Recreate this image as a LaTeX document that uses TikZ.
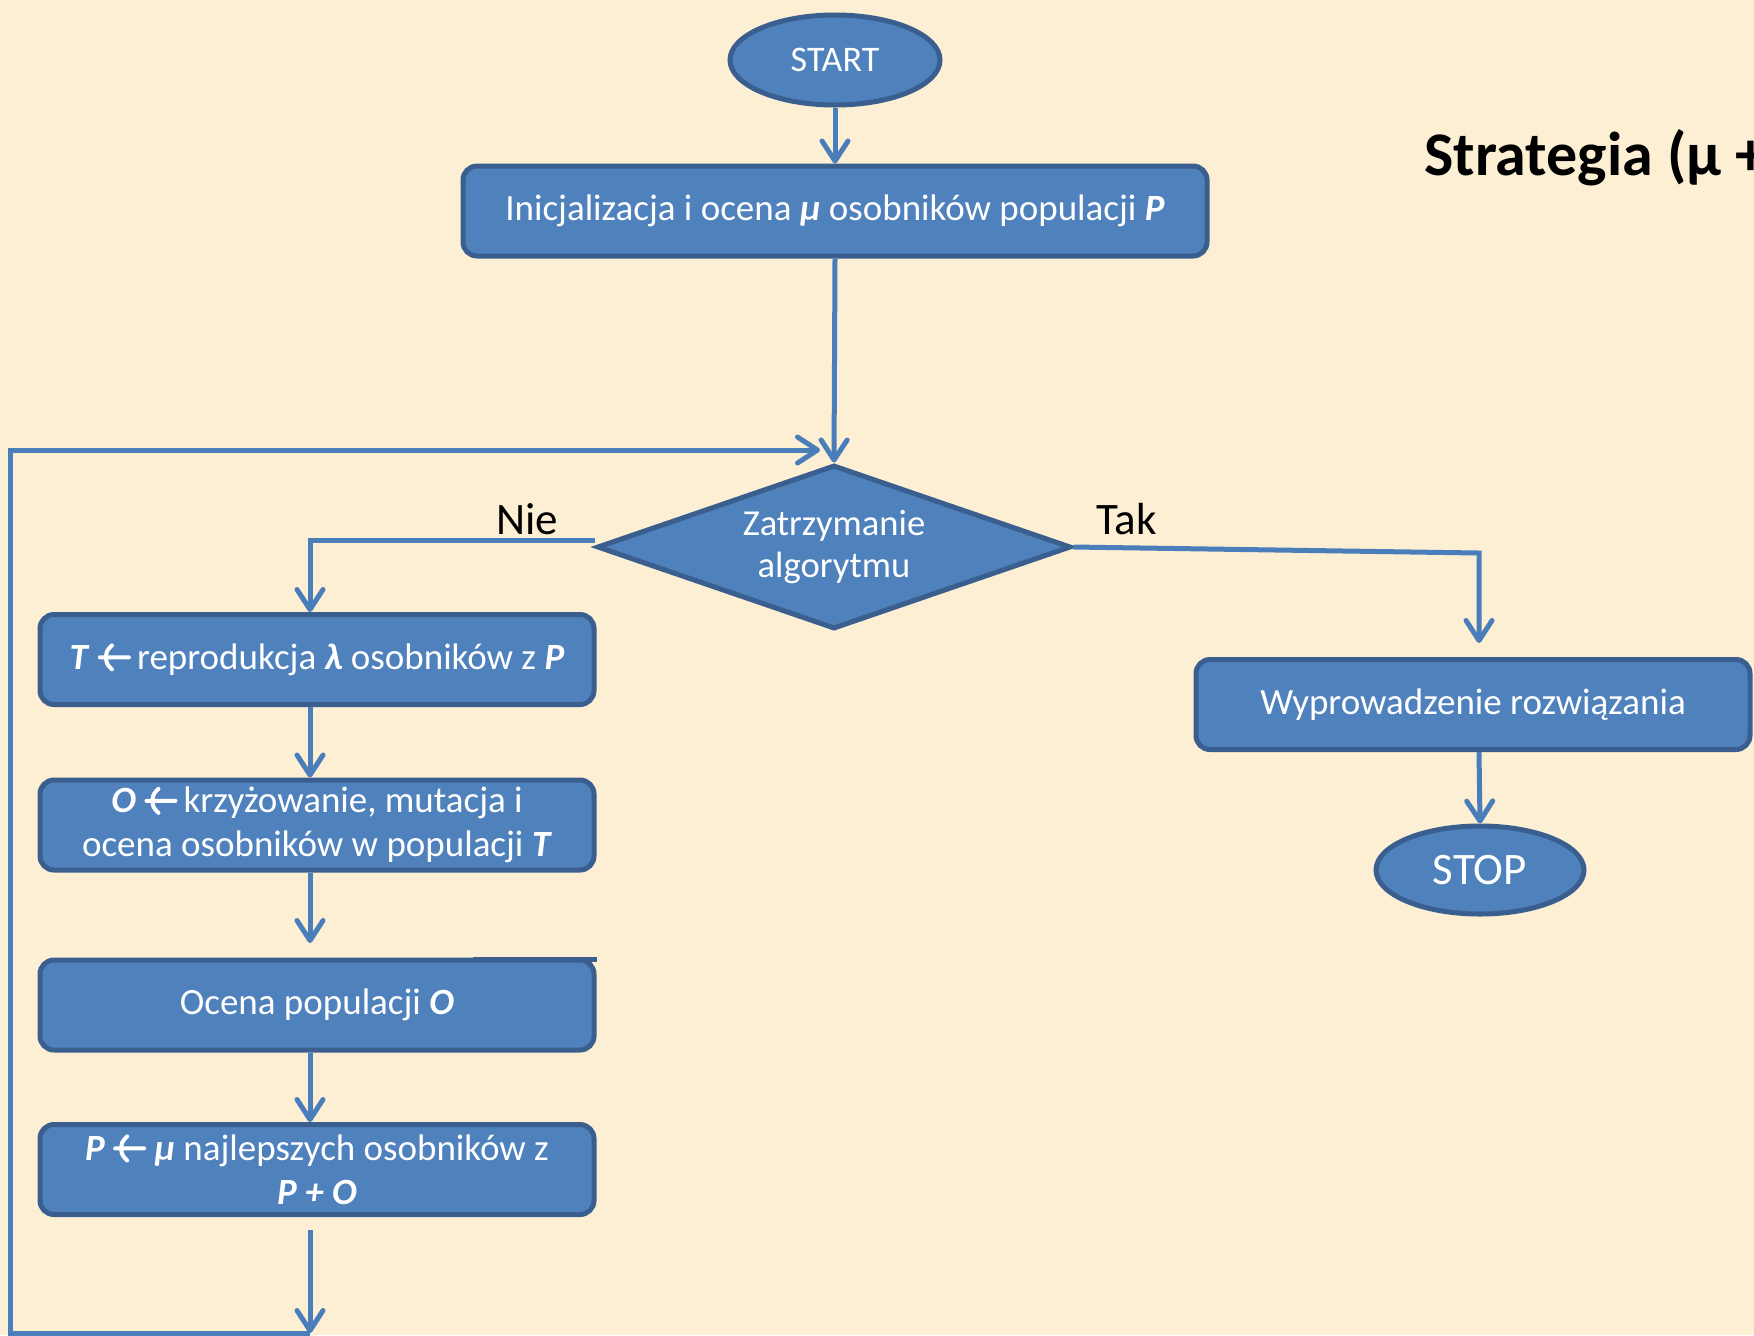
\documentclass[tikz,border=0pt]{standalone}
\usepackage{fontspec}
\setmainfont{Carlito}
\usetikzlibrary{shapes.geometric,arrows.meta,calc}

\definecolor{paper}{HTML}{FCEFD4}
\definecolor{boxfill}{HTML}{4F81BD}
\definecolor{boxline}{HTML}{3A5F8F}
\definecolor{wire}{HTML}{4A7EBB}

\newcommand{\bi}[1]{\textbf{\textit{#1}}}
% open-headed left arrow used as the assignment sign
\newcommand{\getsarrow}{\tikz[x=1pt,y=1pt,baseline=0pt]
  \draw[white, line width=2pt, line cap=round, line join=round]
    (15.5,6) -- (1,6) (7,12) -- (1,6) -- (7,0);}

\tikzset{
  stepbox/.style={draw=boxline, fill=boxfill, line width=2.5pt,
    rounded corners=7pt, text=white, align=center, inner sep=0pt,
    minimum width=277pt, minimum height=45pt,
    font=\fontsize{18.5pt}{22pt}\selectfont},
  terminal/.style={ellipse, draw=boxline, fill=boxfill, line width=2.5pt,
    text=white, inner sep=0pt},
  decision/.style={diamond, draw=boxline, fill=boxfill, line width=2.5pt,
    text=white, align=center, inner sep=0pt, shape aspect=2.85,
    minimum width=237pt, minimum height=82pt,
    font=\fontsize{18.3pt}{21pt}\selectfont},
  conn/.style={draw=wire, line width=2.5pt,
    -{Straight Barb[length=10pt,width=13pt,round]}},
  branchlabel/.style={anchor=base west, inner sep=0pt,
    font=\fontsize{22.5pt}{26pt}\selectfont},
}

\begin{document}
\begin{tikzpicture}[x=0.5pt,y=-0.5pt]
  % page background
  \fill[paper] (0,0) rectangle (1754,1335);
  \useasboundingbox (0,0) rectangle (1754,1335);

  % heading, running off the right edge
  \begin{scope}
    \clip (0,0) rectangle (1754,1335);
    \node[anchor=base west, inner sep=0pt,
      font=\fontsize{31pt}{36pt}\selectfont\bfseries]
      (title) at (1424,175) {Strategia (μ +};
  \end{scope}

  % main column
  \node[terminal, minimum width=105pt, minimum height=45pt,
    font=\fontsize{18pt}{22pt}\selectfont] (start) at (835,60) {START};
  \node[stepbox, minimum width=372pt] (init) at (835,211)
    {Inicjalizacja i ocena \bi{μ} osobników populacji \bi{P}};
  \node[decision] (dia) at (834,547) {Zatrzymanie\\algorytmu};

  % loop body
  \node[stepbox] (tbox) at (317,659.5)
    {\bi{T} \getsarrow\,reprodukcja \bi{λ} osobników z \bi{P}};
  \node[stepbox] (obox) at (317,825)
    {\bi{O} \getsarrow\,krzyżowanie, mutacja i\\ocena osobników w populacji \bi{T}};
  \node[stepbox] (cbox) at (317,1005) {Ocena populacji \bi{O}};
  \fill[boxline] (473,957) rectangle (597,962);
  \node[stepbox] (pbox) at (317,1169.5)
    {\bi{P} \getsarrow{} \bi{μ} najlepszych osobników z\\\bi{P + O}};

  % exit branch
  \node[stepbox] (wbox) at (1473,704.5) {Wyprowadzenie rozwiązania};
  \node[terminal, minimum width=104pt, minimum height=44pt,
    font=\fontsize{22.5pt}{26pt}\selectfont] (stop) at (1480,870) {STOP};

  % branch labels
  \node[branchlabel] (nie) at (496,534) {Nie};
  \node[branchlabel] (tak) at (1096,534) {Tak};

  % helper points
  \coordinate (lx) at (310,0);
  \coordinate (otip) at (310,943);
  \coordinate (ptail) at (310,1230);
  \coordinate (pend) at (310,1333);
  \coordinate (lowleft) at (10,1333);
  \coordinate (upleft) at (10,450);
  \coordinate (loopend) at (820,450);
  \coordinate (takc) at (1479,553);
  \coordinate (wtip) at (1479,643);

  % connectors
  \draw[conn] (start.south) -- (init.north);
  \draw[conn] (init.south) -- (dia.north);
  \draw[conn] ([yshift=3.5pt]dia.west) -| (lx |- tbox.north);
  \draw[conn] (tbox.south -| lx) -- (obox.north -| lx);
  \draw[conn] (obox.south -| lx) -- (otip);
  \draw[conn] (cbox.south -| lx) -- (pbox.north -| lx);
  \draw[conn] (ptail) -- (pend);
  \draw[conn] (pend) -- (lowleft) -- (upleft) -- (loopend);
  \draw[conn] (dia.east) -- (takc) -- (wtip);
  \draw[conn] (wbox.south -| takc) -- (stop.north);
\end{tikzpicture}
\end{document}
